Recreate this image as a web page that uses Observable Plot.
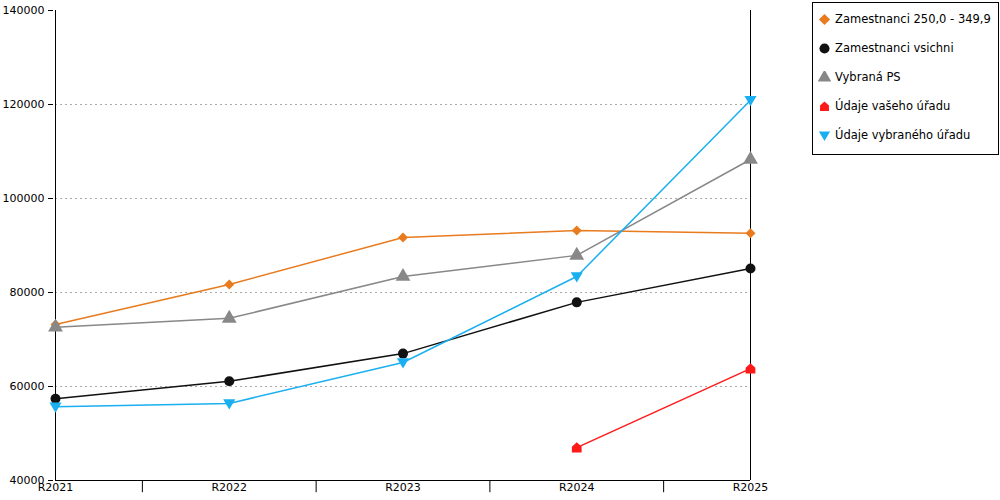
<!DOCTYPE html>
<html><head><meta charset="utf-8">
<script src="https://cdn.jsdelivr.net/npm/d3@7"></script>
<script src="https://cdn.jsdelivr.net/npm/@observablehq/plot@0.6"></script>
<style>
body{margin:0;background:#fff;font-family:"DejaVu Sans",sans-serif;}
#wrap{position:relative;width:1000px;height:500px;}
#legend{position:absolute;left:812px;top:2px;width:187px;height:153px;border:1px solid #000;box-sizing:border-box;font-size:11.5px;}
#legend div{position:absolute;left:5px;display:flex;align-items:center;white-space:nowrap;}
#legend svg{margin-right:4px;}
</style></head><body>
<div id="wrap"><div id="chart"></div><div id="legend"></div></div>
<script>
const years = ["R2021","R2022","R2023","R2024","R2025"];
const yTicks = [40000,60000,80000,100000,120000,140000];
const seriesNames = ["Zamestnanci 250,0 - 349,9","Zamestnanci vsichni","Vybraná PS","Údaje vašeho úřadu","Údaje vybraného úřadu"];
const colors = ["#e87b1e","#111111","#888888","#ff1a1a","#1aaff0"];
const orange = [73200,81700,91700,93200,92600];
const black = [57400,61100,67000,77900,85100];
const gray = [72600,74500,83400,87900,108300];
const red = [null,null,null,47000,63800];
const blue = [55700,56400,65100,83400,120900];

const house = {draw(ctx,size){const r=Math.sqrt(size)/2;ctx.moveTo(0,-r*1.1);ctx.lineTo(r,-r*0.2);ctx.lineTo(r,r);ctx.lineTo(-r,r);ctx.lineTo(-r,-r*0.2);ctx.closePath();}};
const down = {draw(ctx,size){const r=Math.sqrt(size)/1.6;ctx.moveTo(-r,-r*0.7);ctx.lineTo(r,-r*0.7);ctx.lineTo(0,r*1.0);ctx.closePath();}};
const symbols = [d3.symbolDiamond2, d3.symbolCircle, d3.symbolTriangle, house, down];
const radii = [4.5,5,5.5,5.5,5.5];
const vals = [orange,black,gray,red,blue];
const data = [];
vals.forEach((arr,s)=>arr.forEach((v,i)=>{ if(v!=null) data.push({s,i,v}); }));

const marks = [
  Plot.gridY(yTicks.slice(1,-1),{stroke:"#aaa",strokeDasharray:"2,3",strokeOpacity:1}),
  Plot.ruleX([0],{stroke:"#000"}),
  Plot.ruleX([4],{stroke:"#000"}),
  Plot.ruleY([40000],{stroke:"#000"}),
  Plot.axisY({ticks:yTicks,tickSize:5,fontSize:11,tickFormat:d=>String(d),label:null,stroke:"#000",dx:-2}),
  Plot.axisX({ticks:[0,1,2,3,4],tickSize:0,tickPadding:3,fontSize:11,tickFormat:i=>years[i],label:null}),
  Plot.ruleX([0.5,1.5,2.5,3.5],{y1:40000,y2:37400,stroke:"#000",clip:false}),
];
vals.forEach((arr,s)=>{
  const d = data.filter(e=>e.s===s);
  marks.push(Plot.line(d,{x:"i",y:"v",stroke:colors[s],strokeWidth:1.5}));
  marks.push(Plot.dot(d,{x:"i",y:"v",fill:colors[s],symbol:()=>symbols[s],r:radii[s]}));
});
const ch = Plot.plot({
  width:1000,height:500,marginLeft:55,marginRight:250,marginTop:10,marginBottom:20,
  style:{fontFamily:"DejaVu Sans",fontSize:"11px",color:"#000"},
  x:{domain:[0,4],axis:null},
  y:{domain:[40000,140000],axis:null},
  marks
});
document.getElementById("chart").appendChild(ch);

const lg = document.getElementById("legend");
seriesNames.forEach((n,s)=>{
  const div=document.createElement("div");
  div.style.top=(9+s*29)+"px";
  const p = d3.symbol(symbols[s], 80)();
  div.innerHTML=`<svg width="13" height="13" viewBox="-6.5 -6.5 13 13"><path d="${p}" fill="${colors[s]}"/></svg><span>${n}</span>`;
  lg.appendChild(div);
});
</script></body></html>
